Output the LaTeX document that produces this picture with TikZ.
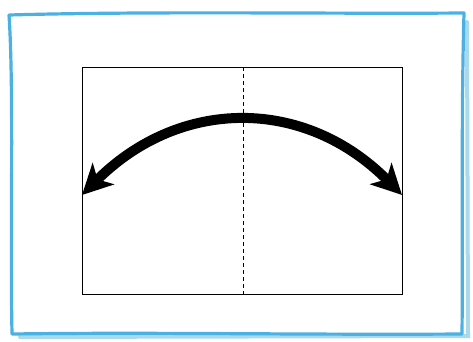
\documentclass[tikz,border=0pt]{standalone}
\usetikzlibrary{arrows.meta}
\definecolor{frameblue}{HTML}{4BB1E3}
\definecolor{shadowblue}{HTML}{A9D9EA}
\tikzset{
  frame/.style={draw=frameblue, line width=3.2pt, line join=round, line cap=round},
  shadow/.style={draw=shadowblue, line width=4pt, line cap=round},
  box/.style={draw=black, line width=1.3pt},
  divider/.style={draw=black, line width=1pt, dash pattern=on 4pt off 3pt},
  swing/.style={line width=10pt, {Stealth[length=30pt,width=30pt,inset=8pt]}-{Stealth[length=30pt,width=30pt,inset=8pt]}}
}
\begin{document}
\begin{tikzpicture}[x=1pt,y=-1pt]
\useasboundingbox (0,0) rectangle (473,341);
\fill[white] (0,0) rectangle (473,341);
% shadow
\draw[shadow] (467,22) -- (468,336) -- (20,337);
% hand drawn frame
\coordinate (f1) at (9,15);
\coordinate (f2) at (464,13);
\coordinate (f3) at (462,334);
\coordinate (f4) at (12,334);
\draw[frame] (f1) .. controls (150,11) and (330,14) .. (f2)
  .. controls (461,120) and (463,240) .. (f3)
  .. controls (300,335) and (150,332) .. (f4)
  .. controls (10,230) and (14,90) .. (f1);
% inner box
\node[box, minimum width=320pt, minimum height=227pt, inner sep=0pt, anchor=north west] (panel) at (82,67) {};
\coordinate (top) at (243,67);
\coordinate (bot) at (243,294);
\draw[divider] (top) -- (bot);
\coordinate (L) at (82,195);
\coordinate (R) at (402,195);
\draw[swing] (L) .. controls (180,97) and (305,97) .. (R);
\end{tikzpicture}
\end{document}
